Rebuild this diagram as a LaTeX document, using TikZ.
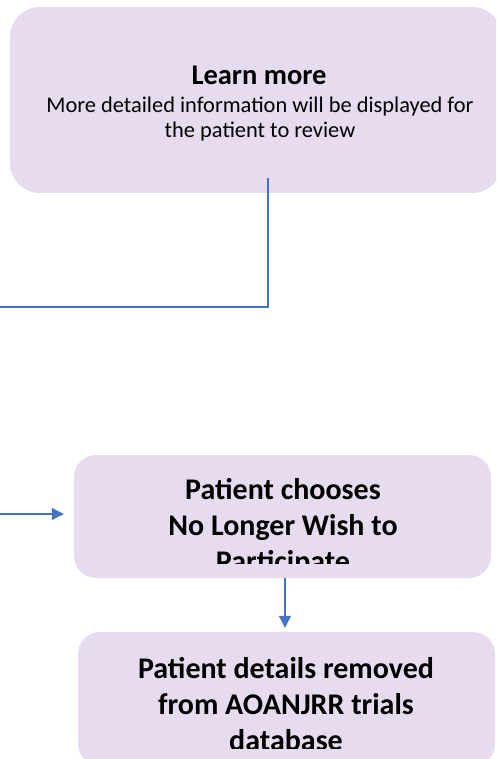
\documentclass[tikz,border=0pt]{standalone}
\usepackage{fontspec}
\setmainfont{Carlito}
\usetikzlibrary{arrows.meta}
\definecolor{boxfill}{HTML}{E7DBEF}
\definecolor{lineblue}{HTML}{4472C4}
\tikzset{
  flowbox/.style={draw=none, fill=boxfill, rounded corners=#1, inner sep=0pt},
  flowbox/.default=24pt,
  conn/.style={draw=lineblue, line width=1.1pt},
  arr/.style={conn, -{Triangle[length=12pt,width=12pt]}},
  boldtext/.style={font=\fontsize{30}{36}\selectfont\bfseries, align=center, text=black}
}
\begin{document}
\begin{tikzpicture}[x=1pt,y=-1pt]
\useasboundingbox (0,0) rectangle (496,759);
\clip (0,0) rectangle (496,759);
% top box
\node[flowbox=30pt, minimum width=492pt, minimum height=186pt] (learn) at (256,100) {};
\node[align=center, inner sep=0pt] (learntitle) at (259,75) {\fontsize{28.5}{30}\selectfont\bfseries Learn more};
\node[align=center, inner sep=0pt, font=\fontsize{22.4}{25}\selectfont] (learnsub) at (260,119)
  {More detailed information will be displayed for\\the patient to review};
% middle box
\node[flowbox=22pt, minimum width=417pt, minimum height=123pt] (mid) at (282.5,516.5) {};
\begin{scope}
\clip (74,455) rectangle (491,563);
\node[boldtext] (midtext) at (283,527) {Patient chooses\\No Longer Wish to\\Participate};
\end{scope}
% bottom box
\node[flowbox=22pt, minimum width=417pt, minimum height=134pt] (bot) at (286.5,699) {};
\begin{scope}
\clip (78,632) rectangle (495,748);
\node[boldtext] (bottext) at (286,704) {Patient details removed\\from AOANJRR trials\\database};
\end{scope}
% connectors
\coordinate (l1) at (268,178);
\coordinate (l2) at (268,307);
\coordinate (offA) at (-5,307);
\coordinate (offB) at (-5,514);
\draw[conn] (l1) -- (l2) -- (offA);
\draw[arr, shorten >=10pt] (offB) -- (mid.west |- offB);
\draw[arr, shorten >=4pt] ([xshift=2.5pt]mid.south) -- ([xshift=-1.5pt]bot.north);
\end{tikzpicture}
\end{document}
